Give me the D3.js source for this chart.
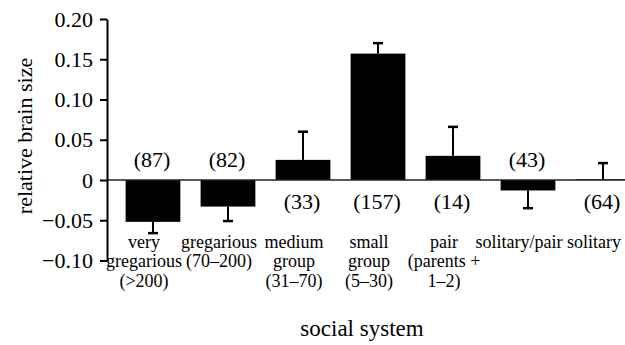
<!DOCTYPE html>
<html>
<head>
<meta charset="utf-8">
<script src="https://cdn.jsdelivr.net/npm/d3@7"></script>
</head>
<body style="margin:0; background:#fff">
<div id="chart"></div>
<script>
// DATA
const categories = ['very gregarious', 'gregarious', 'medium group', 'small group', 'pair', 'solitary/pair', 'solitary'];
const categoryLines = [
	['very', 'gregarious', '(>200)'],
	['gregarious', '(70–200)'],
	['medium', 'group', '(31–70)'],
	['small', 'group', '(5–30)'],
	['pair', '(parents +', '1–2)'],
	['solitary/pair'],
	['solitary']
];
const brainSize = [-0.052, -0.033, 0.025, 0.157, 0.030, -0.013, 0.001];
const stdErr = [0.014, 0.018, 0.035, 0.013, 0.036, 0.022, 0.020];
const counts = [87, 82, 33, 157, 14, 43, 64];
const yTickValues = [-0.10, -0.05, 0, 0.05, 0.10, 0.15, 0.20];

// THE GOOD STUFF
const width = 625;
const height = 345;
const margin = { top: 19, right: 0, bottom: 84.5, left: 107 };
const serif = '"Liberation Serif"';

const svg = d3.select('#chart')
	.append('svg')
	.attr('width', width)
	.attr('height', height);

const xScale = d3.scaleBand()
	.domain(categories)
	.range([margin.left, 649])
	.paddingInner(0.27)
	.paddingOuter(0.248);

const yScale = d3.scaleLinear()
	.domain([-0.10, 0.20])
	.range([height - margin.bottom, margin.top]);

const data = categories.map((c, i) => ({
	cat: c, value: brainSize[i], se: stdErr[i], n: counts[i], lines: categoryLines[i]
}));

const mid = d => xScale(d.cat) + xScale.bandwidth() / 2;

// bars
svg.append('g')
	.selectAll('rect')
	.data(data)
	.join('rect')
	.attr('fill', '#000')
	.attr('x', d => xScale(d.cat))
	.attr('width', xScale.bandwidth())
	.attr('y', d => yScale(Math.max(0, d.value)))
	.attr('height', d => Math.abs(yScale(d.value) - yScale(0)));

// error bars, one-sided away from zero
const errEnd = d => d.value >= 0 ? d.value + d.se : d.value - d.se;
const err = svg.append('g').attr('stroke', '#000').attr('stroke-width', 2);
err.selectAll('line.stem')
	.data(data)
	.join('line')
	.attr('class', 'stem')
	.attr('x1', mid)
	.attr('x2', mid)
	.attr('y1', d => yScale(d.value))
	.attr('y2', d => yScale(errEnd(d)));
err.selectAll('line.cap')
	.data(data)
	.join('line')
	.attr('class', 'cap')
	.attr('stroke-width', 2.5)
	.attr('x1', d => mid(d) - 5)
	.attr('x2', d => mid(d) + 5)
	.attr('y1', d => yScale(errEnd(d)))
	.attr('y2', d => yScale(errEnd(d)));

// zero line
svg.append('line')
	.attr('x1', margin.left)
	.attr('x2', width)
	.attr('y1', yScale(0))
	.attr('y2', yScale(0))
	.attr('stroke', '#222')
	.attr('stroke-width', 1.5);

// y axis
svg.append('g')
	.attr('transform', `translate(${margin.left},0)`)
	.call(d3.axisLeft(yScale)
		.tickValues(yTickValues)
		.tickSize(7)
		.tickPadding(7)
		.tickSizeOuter(0)
		.tickFormat(d => d === 0 ? '0' : d3.format('.2f')(d))
	)
	.call(g => g.selectAll('.domain, line').attr('stroke', '#000').attr('stroke-width', 2))
	.call(g => g.selectAll('text')
		.attr('fill', '#000')
		.style('font-family', serif)
		.style('font-size', '22px'));

// sample sizes, opposite side of the bar
svg.append('g')
	.selectAll('text')
	.data(data)
	.join('text')
	.attr('x', d => mid(d) - 1)
	.attr('y', d => d.value < 0 ? yScale(0) - 13 : yScale(0) + 29)
	.attr('text-anchor', 'middle')
	.style('font-family', serif)
	.style('font-size', '22px')
	.text(d => `(${d.n})`);

// category labels
const catLabels = svg.append('g')
	.selectAll('text')
	.data(data)
	.join('text')
	.attr('text-anchor', 'middle')
	.style('font-family', serif)
	.style('font-size', '18px')
	.attr('transform', d => `translate(${mid(d) - 9},${yScale(-0.10) - 13})`);
catLabels.selectAll('tspan')
	.data(d => d.lines)
	.join('tspan')
	.attr('x', 0)
	.attr('y', (t, i) => i * 19.5)
	.text(t => t);

// axis titles
svg.append('text')
	.attr('transform', `translate(32,136) rotate(-90)`)
	.attr('text-anchor', 'middle')
	.style('font-family', serif)
	.style('font-size', '22px')
	.text('relative brain size');

svg.append('text')
	.attr('x', 362)
	.attr('y', 336)
	.attr('text-anchor', 'middle')
	.style('font-family', serif)
	.style('font-size', '23px')
	.text('social system');
</script>
</body>
</html>
